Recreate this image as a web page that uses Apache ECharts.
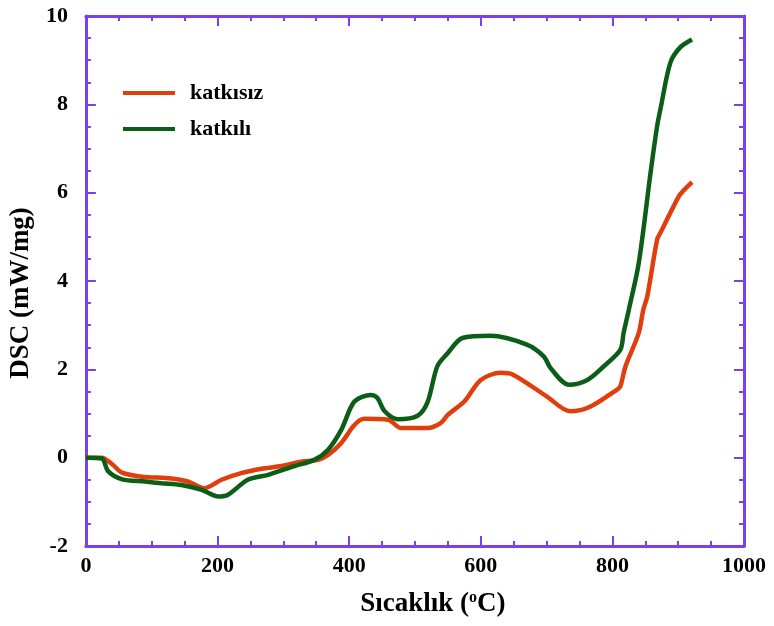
<!DOCTYPE html>
<html>
<head>
<meta charset="utf-8">
<script src="https://cdn.jsdelivr.net/npm/echarts@6/dist/echarts.min.js"></script>
<style>html,body{margin:0;padding:0;background:#fff;}#c{width:774px;height:626px;}</style>
</head>
<body>
<div id="c"></div>
<script>
// katkısız (orange)
const tempA = [0,24,40,55,85,130,155,180,206,236,267,297,327,353,368,388,408,423,459,479,519,539,550,575,600,630,649,700,736,767,807,812,820,840,847,853,868,873,893,903,921];
const dscA  = [0,0,-0.15,-0.34,-0.43,-0.47,-0.54,-0.69,-0.5,-0.35,-0.25,-0.19,-0.09,-0.05,0.06,0.33,0.74,0.88,0.86,0.67,0.67,0.78,0.97,1.27,1.76,1.92,1.88,1.39,1.05,1.16,1.54,1.61,2.07,2.82,3.35,3.65,4.94,5.09,5.69,5.96,6.24];
// katkılı (green)
const tempB = [0,24,34,55,90,115,145,176,201,216,246,277,317,347,368,388,408,433,443,454,474,504,519,534,550,572,615,670,696,706,734,762,787,812,817,825,840,858,868,873,888,903,921];
const dscB  = [0,-0.02,-0.31,-0.49,-0.54,-0.58,-0.62,-0.73,-0.88,-0.84,-0.5,-0.39,-0.19,-0.05,0.18,0.63,1.27,1.42,1.35,1.05,0.87,0.95,1.25,2.07,2.37,2.71,2.76,2.56,2.29,2.03,1.65,1.76,2.07,2.44,2.82,3.35,4.4,6.45,7.51,7.89,8.94,9.29,9.47];
const seriesNames = ['katkısız','katkılı'];
const xTicks = [0,200,400,600,800,1000];
const yTicks = [-2,0,2,4,6,8,10];

const axisColor = '#7B3FF0';
const font = 'Liberation Serif';
const pair = (xs, ys) => xs.map((x,i)=>[x, ys[i]]);

function xAxisCfg(pos, show) {
  return {
    type:'value', position:pos, min:xTicks[0], max:xTicks[xTicks.length-1], interval:200,
    axisLine:{show:true, onZero:false, lineStyle:{color:axisColor, width:3}},
    axisTick:{show:true, inside:true, length:10, lineStyle:{color:axisColor, width:2}},
    minorTick:{show:true, splitNumber:4, length:5, lineStyle:{color:axisColor, width:2}},
    splitLine:{show:false},
    axisLabel:{show:show, color:'#000', fontFamily:font, fontWeight:'bold', fontSize:22, margin:9,
      formatter:v=>String(v)},
    name: show ? '{n|Sıcaklık (}{s|o}{n|C)}' : '',
    nameLocation:'middle', nameGap:44,
    nameTextStyle:{padding:[0,0,0,36], rich:{
      n:{fontFamily:font, fontWeight:'bold', fontSize:27, color:'#000'},
      s:{fontFamily:font, fontWeight:'bold', fontSize:16, color:'#000', verticalAlign:'top', padding:[0,0,12,0]}
    }}
  };
}
function yAxisCfg(pos, show) {
  return {
    type:'value', position:pos, min:yTicks[0], max:yTicks[yTicks.length-1], interval:2,
    axisLine:{show:true, onZero:false, lineStyle:{color:axisColor, width:3}},
    axisTick:{show:true, inside:true, length:10, lineStyle:{color:axisColor, width:2}},
    minorTick:{show:true, splitNumber:4, length:5, lineStyle:{color:axisColor, width:2}},
    splitLine:{show:false},
    axisLabel:{show:show, color:'#000', fontFamily:font, fontWeight:'bold', fontSize:22, margin:18},
    name: show ? 'DSC (mW/mg)' : '', nameLocation:'middle', nameGap:42, nameRotate:90,
    nameTextStyle:{fontFamily:font, fontWeight:'bold', fontSize:27, color:'#000', padding:[0,24,0,0]}
  };
}

const chart = echarts.init(document.getElementById('c'), null, {renderer:'canvas'});
chart.setOption({
  backgroundColor:'#fff',
  animation:false,
  grid:{left:84, right:30, top:16, bottom:80},
  legend:{
    orient:'vertical', left:118, top:77, itemWidth:52, itemHeight:14, itemGap:14,
    data:seriesNames.map(n=>({name:n, icon:'path://M0,5 L52,5 L52,9 L0,9 Z'})),
    textStyle:{fontFamily:font, fontWeight:'bold', fontSize:22, color:'#000', padding:[0,0,0,10]}
  },
  xAxis:[xAxisCfg('bottom', true), xAxisCfg('top', false)],
  yAxis:[yAxisCfg('left', true), yAxisCfg('right', false)],
  series:[
    {name:seriesNames[0], type:'line', data:pair(tempA,dscA), showSymbol:false, smooth:0.3,
     color:'#E03E0C', lineStyle:{width:4.5, color:'#E03E0C'}},
    {name:seriesNames[1], type:'line', data:pair(tempB,dscB), showSymbol:false, smooth:0.3,
     color:'#0B5E18', lineStyle:{width:4.5, color:'#0B5E18'}}
  ]
});
</script>
</body>
</html>
